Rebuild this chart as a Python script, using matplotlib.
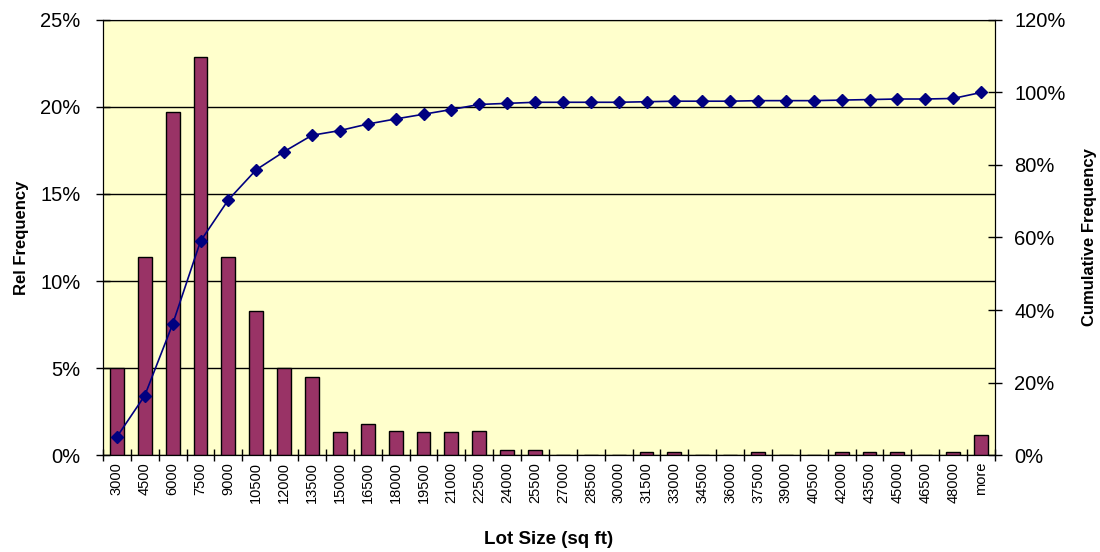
import matplotlib
matplotlib.use("Agg")
import matplotlib.pyplot as plt
from matplotlib.ticker import FuncFormatter, MultipleLocator
import numpy as np

plt.rcParams['font.family'] = ['Liberation Sans', 'DejaVu Sans']

categories = [str(v) for v in range(3000, 48001, 1500)] + ["more"]
rel_freq = [5.0, 11.4, 19.7, 22.9, 11.4, 8.3, 5.0, 4.5, 1.3, 1.8, 1.4, 1.3, 1.3, 1.4,
            0.3, 0.3, 0.0, 0.0, 0.0, 0.15, 0.15, 0.0, 0.0, 0.15, 0.0, 0.0, 0.15, 0.15,
            0.15, 0.0, 0.15, 1.15]
cum_freq = [5.0, 16.4, 36.1, 59.0, 70.4, 78.7, 83.7, 88.2, 89.5, 91.3, 92.7, 94.0,
            95.3, 96.7, 97.0, 97.3, 97.3, 97.3, 97.3, 97.45, 97.6, 97.6, 97.6, 97.75,
            97.75, 97.75, 97.9, 98.05, 98.2, 98.2, 98.35, 100.0]

fig = plt.figure(figsize=(11, 5.52), dpi=100)
ax = fig.add_axes([0.0936, 0.1757, 0.8109, 0.7881])
ax.set_facecolor('#FFFFCC')
x = np.arange(len(categories))
ax.bar(x, rel_freq, width=0.5, color='#993366', edgecolor='black', linewidth=1, zorder=3)
ax.set_xlim(-0.5, len(categories) - 0.5)
ax.set_ylim(0, 25)
ax.yaxis.set_major_locator(MultipleLocator(5))
ax.yaxis.set_major_formatter(FuncFormatter(lambda v, p: f"{v:.0f}%"))
ax.grid(axis='y', color='black', linewidth=1, zorder=1)
ax.set_axisbelow(True)
ax.set_xticks(x)
ax.set_xticklabels(categories, rotation=90, fontsize=10.5)
ax.set_xticks(np.arange(-0.5, len(categories), 1), minor=True)
ax.tick_params(axis='x', which='major', length=0, pad=5)
ax.tick_params(axis='x', which='minor', direction='inout', length=8, width=1)
ax.tick_params(axis='y', direction='inout', length=10, width=1, labelsize=14.5, pad=11)
for s in ax.spines.values():
    s.set_color('black')
ax.spines['top'].set_color('#808080')
ax.yaxis.set_label_coords(-0.083, 0.5)
ax.set_ylabel('Rel Frequency', fontsize=12, fontweight='bold')
ax.set_xlabel('Lot Size (sq ft)', fontsize=13.5, fontweight='bold')
ax.xaxis.set_label_coords(0.5, -0.175)

ax2 = ax.twinx()
ax2.plot(x, cum_freq, color='#000080', marker='D', markersize=6, linewidth=1.2, zorder=4)
ax2.set_ylim(0, 120)
ax2.yaxis.set_major_locator(MultipleLocator(20))
ax2.yaxis.set_major_formatter(FuncFormatter(lambda v, p: f"{v:.0f}%"))
ax2.tick_params(axis='y', direction='inout', length=10, width=1, labelsize=14.5, pad=9)
ax2.set_ylabel('Cumulative Frequency', fontsize=12, fontweight='bold', rotation=90)
ax2.yaxis.set_label_coords(1.098, 0.5)
for s in ax2.spines.values():
    s.set_color('black')

fig.savefig('out.png', dpi=100)
